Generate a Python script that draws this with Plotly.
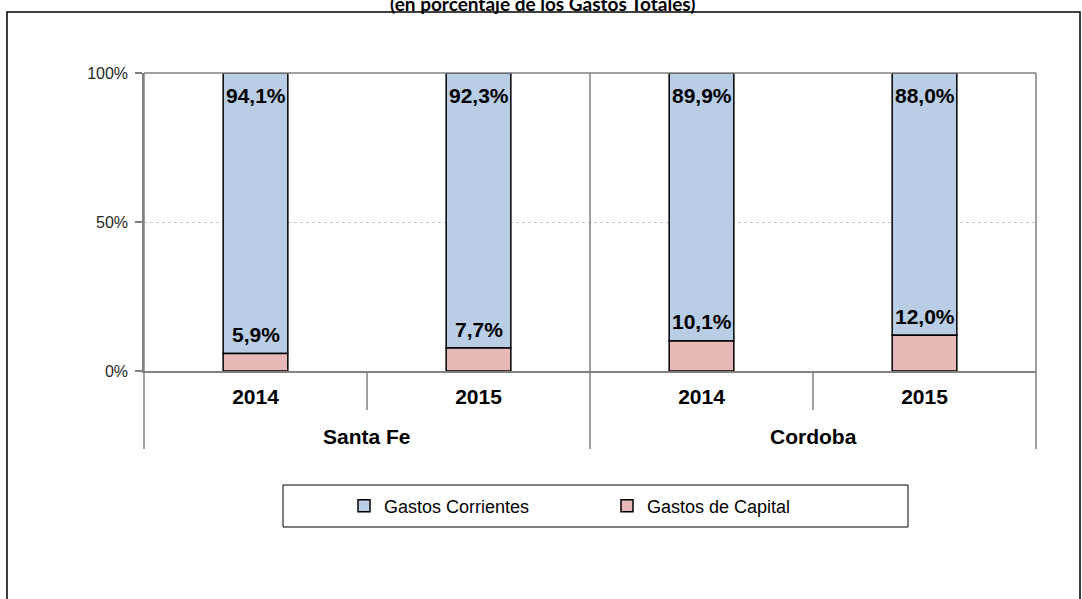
import plotly.graph_objects as go

provinces = ["Santa Fe", "Santa Fe", "Cordoba", "Cordoba"]
years = ["2014", "2015", "2014", "2015"]
gastos_corrientes = [94.1, 92.3, 89.9, 88.0]
gastos_capital = [5.9, 7.7, 10.1, 12.0]
y_ticks = [0, 50, 100]
y_ticklabels = ["0%", "50%", "100%"]

def fmt(v):
    return f"{v:.1f}%".replace(".", ",")

cats = [f"{p} {y}" for p, y in zip(provinces, years)]

FONT = "Liberation Sans, Arial"
fig = go.Figure()
fig.add_trace(go.Bar(
    x=cats, y=gastos_corrientes, base=gastos_capital, name="Gastos Corrientes",
    marker=dict(color="#B9CDE5", line=dict(color="#000000", width=1.5)),
))
fig.add_trace(go.Bar(
    x=cats, y=gastos_capital, name="Gastos de Capital",
    marker=dict(color="#E6B9B8", line=dict(color="#000000", width=1.5)),
))

W, H = 1082, 599
L, R, T, B = 144, 46, 73, 228
pw, ph = W - L - R, H - T - B

def px(xp):
    return (xp - L) / pw

def py(yp):
    return (H - B - yp) / ph

gray = "#808080"
shapes = []
shapes.append(dict(type="rect", xref="paper", yref="paper",
                   x0=px(7), x1=px(1080), y0=py(640), y1=py(12),
                   line=dict(color="#000000", width=1.5), layer="below"))
for xf in [0, 0.5, 1.0]:
    shapes.append(dict(type="line", xref="paper", yref="paper",
                       x0=xf, x1=xf, y0=py(449), y1=1,
                       line=dict(color=gray, width=1.5)))
for xf in [0.25, 0.75]:
    shapes.append(dict(type="line", xref="paper", yref="paper",
                       x0=xf, x1=xf, y0=py(410), y1=0,
                       line=dict(color=gray, width=1.5)))
shapes.append(dict(type="line", xref="paper", yref="paper",
                   x0=0, x1=1, y0=1, y1=1, line=dict(color=gray, width=1.5)))
shapes.append(dict(type="rect", xref="paper", yref="paper",
                   x0=px(283), x1=px(908), y0=py(527), y1=py(485),
                   line=dict(color="#000000", width=1)))

annotations = []
lab_font = dict(family=FONT, size=21, color="#000000", weight="bold")
for c, cap, cor in zip(cats, gastos_capital, gastos_corrientes):
    annotations.append(dict(x=c, y=cap + cor, xref="x", yref="y", text=fmt(cor),
                            showarrow=False, yanchor="middle", yshift=-22, font=lab_font))
    annotations.append(dict(x=c, y=cap, xref="x", yref="y", text=fmt(cap),
                            showarrow=False, yanchor="middle", yshift=19, font=lab_font))
groups = []
for i, p in enumerate(provinces):
    if not groups or groups[-1][0] != p:
        groups.append([p, i, i])
    else:
        groups[-1][2] = i
for p, i0, i1 in groups:
    annotations.append(dict(x=(i0 + i1) / 2, y=py(436), xref="x", yref="paper", text=p,
                            showarrow=False, yanchor="middle",
                            font=dict(family=FONT, size=21, color="#000000", weight="bold")))
annotations.append(dict(text="<b>(en porcentaje de los Gastos Totales)</b>", xref="paper", yref="paper",
                        x=px(542), y=py(3), showarrow=False, xanchor="center", yanchor="middle",
                        font=dict(family="Lato, Open Sans", size=19, color="#000000")))

fig.update_layout(
    width=W, height=H,
    margin=dict(l=L, r=R, t=T, b=B, pad=0),
    paper_bgcolor="white", plot_bgcolor="white",
    barmode="overlay", bargap=0.71,
    showlegend=True,
    legend=dict(orientation="h", x=px(344), y=py(506), xanchor="left", yanchor="middle",
                entrywidth=218, entrywidthmode="pixels", itemwidth=30,
                font=dict(family=FONT, size=18, color="#000000"),
                bgcolor="rgba(0,0,0,0)", traceorder="normal"),
    font=dict(family=FONT, color="#000000"),
    xaxis=dict(type="category", tickvals=cats, ticktext=years, showgrid=False,
               showline=True, linecolor=gray, linewidth=1.5, ticks="",
               ticklabelstandoff=6,
               tickfont=dict(family=FONT, size=21, color="#000000", weight="bold")),
    yaxis=dict(range=[0, 100], tickvals=y_ticks, ticktext=y_ticklabels,
               showline=True, linecolor=gray, linewidth=1.5,
               ticks="outside", ticklen=7, tickcolor=gray, tickwidth=1.5,
               ticklabelstandoff=4,
               showgrid=True, gridcolor="#C8C8C8", griddash="dot", gridwidth=1,
               zeroline=False,
               tickfont=dict(family=FONT, size=16, color="#262626")),
    shapes=shapes,
    annotations=annotations,
)

fig.write_html("out.html", config={"displayModeBar": False},
               post_script="document.body.style.margin='0';document.body.style.overflow='hidden';")
